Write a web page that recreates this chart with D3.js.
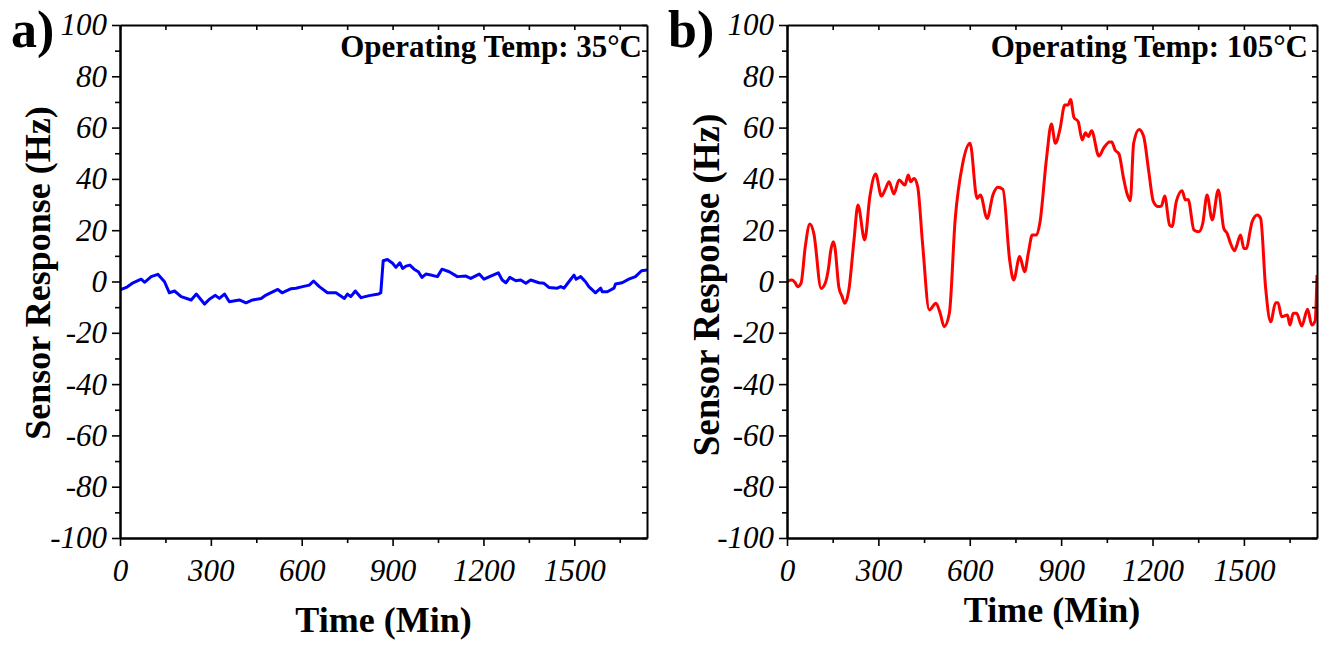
<!DOCTYPE html>
<html>
<head>
<meta charset="utf-8">
<script src="https://cdn.jsdelivr.net/npm/d3@7/dist/d3.min.js"></script>
<style>
  html, body { margin: 0; padding: 0; background: #fff; }
  svg { display: block; }
</style>
</head>
<body>
<svg id="chart" width="1325" height="646"></svg>
<script>
// ---------- data ----------
const timeA = [0,21,43,70,81,103,125,147,163,180,202,235,252,279,295,315,328,345,361,394,416,438,466,482,521,535,565,581,603,625,639,658,685,713,741,751,762,777,796,823,854,861,869,883,900,911,924,933,944,957,971,985,997,1010,1026,1048,1063,1087,1114,1142,1158,1186,1202,1224,1249,1262,1274,1287,1307,1323,1340,1356,1383,1400,1416,1444,1455,1466,1482,1499,1506,1521,1537,1548,1570,1587,1592,1609,1631,1636,1658,1680,1702,1722,1740];
const respA = [-3.3,-2.3,-0.5,0.9,-0.3,1.9,2.8,-0.1,-4.4,-3.7,-5.9,-7.2,-4.9,-8.8,-6.9,-5.4,-6.6,-4.9,-7.9,-7.2,-8.3,-7.2,-6.6,-5.3,-3.1,-4.4,-2.8,-2.6,-2.0,-1.4,0.2,-2.0,-4.4,-4.4,-6.6,-4.9,-5.9,-3.7,-6.3,-5.5,-4.9,-4.4,8.1,8.6,7.1,5.5,7.3,5.1,6.0,6.4,4.8,3.8,1.6,2.9,2.5,1.9,4.8,3.8,1.9,2.1,1.2,2.9,0.9,2.1,3.4,0.6,-0.5,1.6,0.3,0.6,-0.7,0.6,-0.5,-0.7,-2.3,-2.6,-2.0,-2.6,-0.1,2.5,0.9,1.9,-0.1,-2.0,-4.4,-2.6,-4.0,-4.0,-2.6,-1.0,-0.5,0.9,1.9,4.2,4.5];

const timeB = [0,16,27,35,46,60,75,88,112,126,137,143,152,157,170,181,190,203,220,233,255,272,291,310,324,335,351,368,387,398,406,417,429,445,467,489,503,516,533,552,577,601,624,635,657,676,692,709,731,744,764,780,793,805,819,830,852,868,881,896,912,923,931,942,956,969,980,989,1000,1024,1039,1059,1066,1077,1090,1105,1116,1127,1138,1156,1171,1187,1203,1218,1229,1240,1256,1264,1278,1297,1308,1317,1336,1352,1365,1379,1396,1416,1434,1445,1456,1469,1476,1489,1500,1509,1519,1527,1544,1555,1571,1588,1604,1612,1624,1643,1651,1662,1673,1690,1709,1723,1734,1740];
const respB = [0,0.6,-0.5,-2.0,-0.7,13.6,22.4,18.8,-2.7,-0.5,5.8,11.6,15.5,13.6,-2.0,-5.9,-8.5,-3.3,16.2,29.8,16.2,33.1,41.9,33.3,36.3,38.9,34.1,39.6,37.6,41.5,38.9,40.2,37.0,14.9,-11.1,-8.5,-12.4,-17.6,-12.4,24.0,46.1,53.9,32.4,33.7,24.6,33.7,36.7,35.9,8.4,0.6,9.7,3.8,11.6,18.1,18.1,22.7,48.0,61.4,53.9,59.3,68.8,68.8,71.0,64.0,62.3,55.2,58.0,56.5,58.8,48.9,51.9,54.4,54.4,51.3,49.7,40.2,34.4,31.5,53.9,59.3,56.5,43.5,31.1,29.2,29.4,33.3,22.0,21.4,31.1,35.4,31.8,32.0,20.1,19.4,22.7,33.7,24.0,35.7,20.7,18.8,14.9,12.0,13.8,18.1,12.9,12.9,18.8,23.3,25.9,24.6,-2.0,-15.7,-8.3,-8.3,-13.7,-13.1,-17.0,-12.4,-12.4,-17.3,-10.8,-17.0,-15.3,2.5];

const xTicks = [0,300,600,900,1200,1500];
const xMinorTicks = [150,450,750,1050,1350,1650];
const yTicks = [-100,-80,-60,-40,-20,0,20,40,60,80,100];
const yMinorTicks = [-90,-70,-50,-30,-10,10,30,50,70,90];
const panelLetters = ["a)", "b)"];
const tempLabels = ["Operating Temp: 35°C", "Operating Temp: 105°C"];
const seriesColors = ["#0000ff", "#ff0000"];
const xTitle = "Time (Min)";
const yTitle = "Sensor Response (Hz)";

// ---------- layout ----------
const panels = [
  { left: 120, right: 647, top: 25, bottom: 538, t: timeA, v: respA, letterX: 11, ylabX: 50, ylabY: 273, ylabSize: 36, xtitleY: 632, tempX: 642, curve: d3.curveLinear },
  { left: 787, right: 1317, top: 25, bottom: 538, t: timeB, v: respB, letterX: 668, ylabX: 719, ylabY: 285, ylabSize: 37, xtitleY: 622, tempX: 1308, curve: d3.curveMonotoneX }
];

const svg = d3.select("#chart");
const serif = "'Liberation Serif', 'Times New Roman', serif";
const fmt = d => String(d);

panels.forEach((p, i) => {
  const x = d3.scaleLinear().domain([0, 1740]).range([p.left, p.right]);
  const y = d3.scaleLinear().domain([-100, 100]).range([p.bottom, p.top]);
  const g = svg.append("g");

  const clipId = "clip" + i;
  svg.append("clipPath").attr("id", clipId)
    .append("rect").attr("x", p.left).attr("y", p.top)
    .attr("width", p.right - p.left).attr("height", p.bottom - p.top);

  // data line
  const data = p.t.map((t, k) => [t, p.v[k]]);
  g.append("path")
    .datum(data)
    .attr("clip-path", `url(#${clipId})`)
    .attr("fill", "none")
    .attr("stroke", seriesColors[i])
    .attr("stroke-width", 3)
    .attr("stroke-linejoin", "round")
    .attr("d", d3.line().x(d => x(d[0])).y(d => y(d[1])).curve(p.curve));

  const styleAxis = sel => {
    sel.select(".domain").attr("stroke", "#000").attr("stroke-width", 2);
    sel.selectAll(".tick line").attr("stroke", "#000").attr("stroke-width", 1.6);
    sel.selectAll(".tick text").attr("fill", "#000")
      .style("font-family", serif).style("font-style", "italic").style("font-size", "31px");
  };

  // bottom axis
  g.append("g").attr("transform", `translate(0,${p.bottom})`)
    .call(d3.axisBottom(x).tickValues(xTicks).tickSize(8).tickPadding(13).tickSizeOuter(0).tickFormat(fmt))
    .call(styleAxis);
  g.append("g").attr("transform", `translate(0,${p.bottom})`)
    .call(d3.axisBottom(x).tickValues(xMinorTicks).tickSize(5).tickSizeOuter(0).tickFormat(""))
    .call(styleAxis);
  // top axis (inward)
  g.append("g").attr("transform", `translate(0,${p.top})`)
    .call(d3.axisTop(x).tickValues(xTicks.concat(xMinorTicks)).tickSize(-5).tickSizeOuter(0).tickFormat(""))
    .call(styleAxis);
  // left axis
  g.append("g").attr("transform", `translate(${p.left},0)`)
    .call(d3.axisLeft(y).tickValues(yTicks).tickSize(8).tickPadding(5).tickSizeOuter(0).tickFormat(fmt))
    .call(styleAxis);
  g.append("g").attr("transform", `translate(${p.left},0)`)
    .call(d3.axisLeft(y).tickValues(yMinorTicks).tickSize(5).tickSizeOuter(0).tickFormat(""))
    .call(styleAxis);
  // right axis (inward)
  g.append("g").attr("transform", `translate(${p.right},0)`)
    .call(d3.axisRight(y).tickValues(yTicks.concat(yMinorTicks)).tickSize(-5).tickSizeOuter(0).tickFormat(""))
    .call(styleAxis);

  // titles
  g.append("text")
    .attr("x", (p.left + p.right) / 2).attr("y", p.xtitleY)
    .attr("text-anchor", "middle")
    .style("font-family", serif).style("font-weight", "bold").style("font-size", "36px")
    .text(xTitle);
  g.append("text")
    .attr("transform", `translate(${p.ylabX},${p.ylabY}) rotate(-90)`)
    .attr("text-anchor", "middle")
    .style("font-family", serif).style("font-weight", "bold").style("font-size", p.ylabSize + "px")
    .text(yTitle);
  g.append("text")
    .attr("x", p.tempX).attr("y", 57)
    .attr("text-anchor", "end")
    .style("font-family", serif).style("font-weight", "bold").style("font-size", "31px")
    .text(tempLabels[i]);
  g.append("text")
    .attr("x", p.letterX).attr("y", 47)
    .style("font-family", serif).style("font-weight", "bold").style("font-size", "52px")
    .text(panelLetters[i]);
});
</script>
</body>
</html>
